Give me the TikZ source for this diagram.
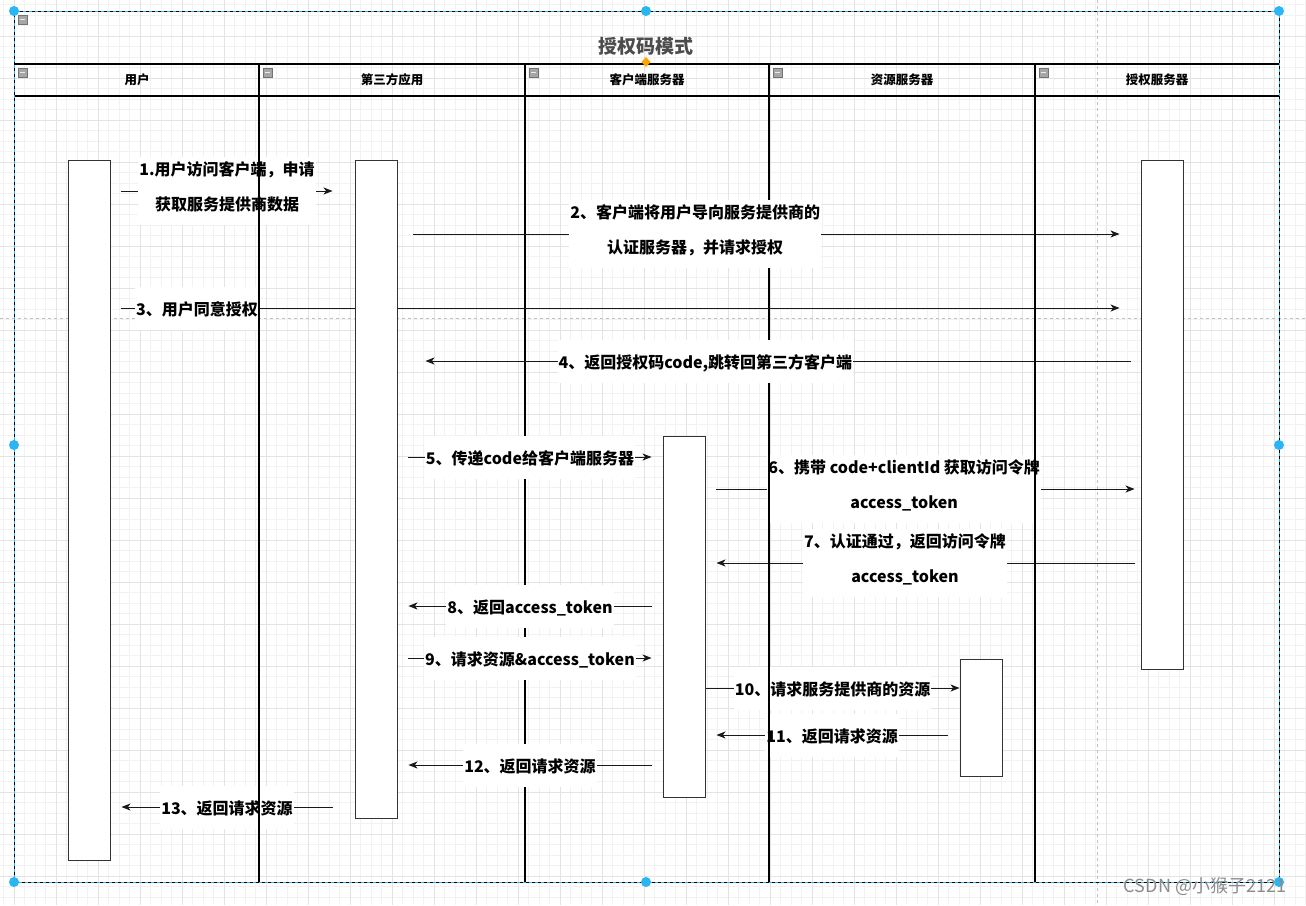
\documentclass[tikz,border=0pt]{standalone}
\usepackage{fontspec}
\setmainfont{Noto Sans CJK SC}
\usetikzlibrary{arrows.meta,positioning,calc}
\definecolor{selblue}{HTML}{29B6F2}
\definecolor{handleorange}{HTML}{FFA500}
\pgfdeclarelayer{back}
\pgfdeclarelayer{msgs}
\pgfsetlayers{back,msgs,main}

\begin{document}
\begin{tikzpicture}[x=1pt, y=-1pt,
actbox/.style={draw=black!80, fill=white, minimum width=42pt, inner sep=0pt, anchor=north, line width=0.9pt},
msg/.style={-{Stealth[length=9pt,width=7pt,inset=2.5pt]}, draw=black!90, line width=1pt},
lbl/.style={fill=white, inner xsep=1pt, inner ysep=4pt, align=center, font=\bfseries\fontsize{16}{35}\selectfont, execute at begin node=\strut, execute at end node=\strut},
lane/.style={draw=black, line width=1.3pt},
hdr/.style={font=\bfseries\fontsize{12.5}{15}\selectfont},
gridminor/.style={draw=black!5, line width=0.6pt},
gridmajor/.style={draw=black!11, line width=0.6pt},
pagebrk/.style={draw=black!25, dashed, line width=0.8pt},
icon/.style={draw=black!55, fill=black!35, line width=0.6pt},
handle/.style={fill=selblue}
]
\useasboundingbox (0,0) rectangle (1306,905);

% canvas grid and swimlane lines behind the messages
\begin{pgfonlayer}{back}
\fill[white] (0,0) rectangle (1306,905);
\foreach \gx in {3.5,14,...,1306} \draw[gridminor] (\gx,0) -- (\gx,905);
\foreach \gy in {4.5,15,...,905} \draw[gridminor] (0,\gy) -- (1306,\gy);
\foreach \gx in {14,56,...,1306} \draw[gridmajor] (\gx,0) -- (\gx,905);
\foreach \gy in {36,78,...,905} \draw[gridmajor] (0,\gy) -- (1306,\gy);
\draw[pagebrk] (0,318) -- (1306,318);
\draw[pagebrk] (1097,0) -- (1097,905);
\draw[lane] (525,64) -- (525,882);
\draw[lane] (769,64) -- (769,400);
\end{pgfonlayer}

% activation boxes
\node[actbox, minimum height=700pt] (user) at (89,160) {};
\node[actbox, minimum height=658pt] (app) at (376,160) {};
\node[actbox, minimum height=361pt] (srv) at (684,436) {};
\node[actbox, minimum height=117pt] (res) at (981,659) {};
\node[actbox, minimum height=509pt] (authsrv) at (1162,160) {};

% messages
\begin{pgfonlayer}{msgs}
\draw[msg] ([xshift=11pt]user.east |- 0,191) -- ([xshift=-22pt]app.west |- 0,191)
  node[lbl, midway] {1.用户访问客户端，申请\\获取服务提供商数据};
\draw[msg] ([xshift=16pt]app.east |- 0,234) -- ([xshift=-21pt]authsrv.west |- 0,234)
  node[lbl, pos=0.399] {2、客户端将用户导向服务提供商的\\认证服务器，并请求授权};
\draw[msg] ([xshift=11pt]user.east |- 0,308) -- ([xshift=-21pt]authsrv.west |- 0,308)
  node[lbl, pos=0.0756] {3、用户同意授权};
\draw[msg] ([xshift=-10pt]authsrv.west |- 0,361) -- ([xshift=28pt]app.east |- 0,361)
  node[lbl, pos=0.603] {4、返回授权码code,跳转回第三方客户端};
\draw[msg] ([xshift=11pt]app.east |- 0,457) -- ([xshift=-11pt]srv.west |- 0,457)
  node[lbl, midway] {5、传递code给客户端服务器};
\draw[msg] ([xshift=11pt]srv.east |- 0,489) -- ([xshift=-6pt]authsrv.west |- 0,489)
  node[lbl, pos=0.449] {6、携带 code+clientId 获取访问令牌\\access\_token};
\draw[msg] ([xshift=-6pt]authsrv.west |- 0,563) -- ([xshift=11pt]srv.east |- 0,563)
  node[lbl, pos=0.549] {7、认证通过，返回访问令牌\\access\_token};
\draw[msg] ([xshift=-11pt]srv.west |- 0,606) -- ([xshift=11pt]app.east |- 0,606)
  node[lbl, midway] {8、返回access\_token};
\draw[msg] ([xshift=11pt]app.east |- 0,658) -- ([xshift=-11pt]srv.west |- 0,658)
  node[lbl, midway] {9、请求资源\&access\_token};
\draw[msg] (srv.east |- 0,688) -- (res.west |- 0,688)
  node[lbl, midway] {10、请求服务提供商的资源};
\draw[msg] ([xshift=-12pt]res.west |- 0,735) -- ([xshift=11pt]srv.east |- 0,735)
  node[lbl, midway] {11、返回请求资源};
\draw[msg] ([xshift=-11pt]srv.west |- 0,765) -- ([xshift=11pt]app.east |- 0,765)
  node[lbl, midway] {12、返回请求资源};
\draw[msg] ([xshift=-22pt]app.west |- 0,807) -- ([xshift=11pt]user.east |- 0,807)
  node[lbl, midway] {13、返回请求资源};
\end{pgfonlayer}

% pool, lanes and headers
\draw[lane] (259,64) -- (259,882);
\draw[lane] (769,400) -- (769,882);
\draw[lane] (1035,64) -- (1035,882);
\draw[lane] (14,64) -- (1279,64);
\draw[lane] (14,96) -- (1279,96);
\draw[black, line width=1pt] (14,11) rectangle (1279,882);
\draw[selblue, dash pattern=on 3pt off 3pt, line width=1pt] (14,11) rectangle (1279,882);

\node[font=\bfseries\fontsize{19}{22}\selectfont, text=black!70] (title) at (646,46) {授权码模式};
\node[hdr] (hUser) at (137,80) {用户};
\node[hdr] (hApp) at (392,80) {第三方应用};
\node[hdr] (hSrv) at (647,80) {客户端服务器};
\node[hdr] (hRes) at (902,80) {资源服务器};
\node[hdr] (hAuth) at (1157,80) {授权服务器};

% collapse icons
\foreach \ix/\iy in {18/15, 18/68, 263/68, 529/68, 773/68, 1039/68} {
  \draw[icon] (\ix,\iy) rectangle ++(9,9);
  \draw[black!8, line width=1.4pt] (\ix+2,\iy+4.5) -- ++(5,0);
}

% selection handles
\foreach \hx/\hy in {14/11, 646/11, 1279/11, 14/445, 1279/445, 14/882, 646/882, 1279/882}
  \fill[handle] (\hx,\hy) circle (5pt);
\fill[handleorange] (646,57) -- (650.5,62) -- (646,67) -- (641.5,62) -- cycle;

\node[font=\fontsize{18}{20}\selectfont, text=black!45] (mark) at (1205,887) {CSDN @小猴子2121};
\end{tikzpicture}
\end{document}
